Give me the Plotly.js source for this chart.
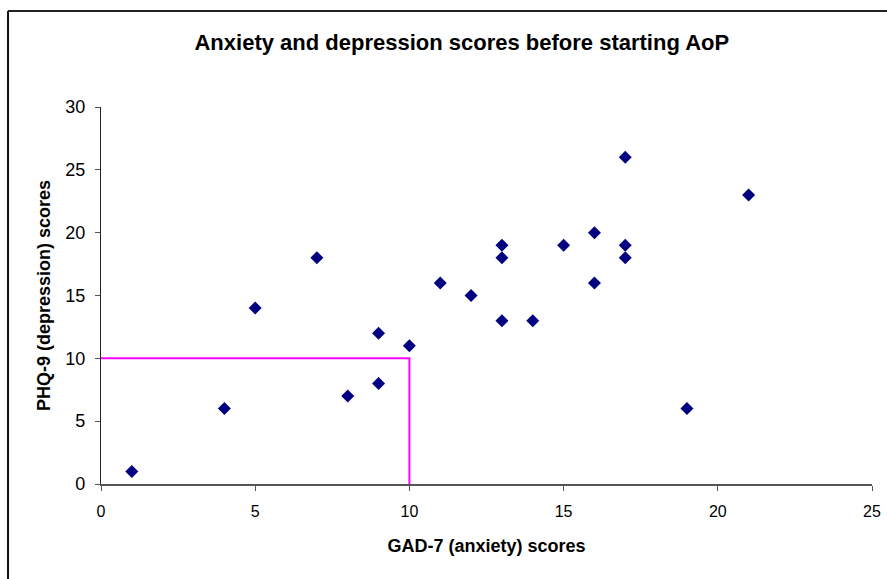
<!DOCTYPE html>
<html>
<head>
<meta charset="utf-8">
<script src="https://cdn.plot.ly/plotly-3.0.1.min.js"></script>
<style>html,body{margin:0;padding:0;background:#fff;}#chart{width:887px;height:579px;}</style>
</head>
<body>
<div id="chart"></div>
<script>
const gad7 = [1, 4, 5, 7, 8, 9, 9, 10, 11, 12, 13, 13, 13, 14, 15, 16, 16, 17, 17, 17, 19, 21];
const phq9 = [1, 6, 14, 18, 7, 12, 8, 11, 16, 15, 19, 18, 13, 13, 19, 20, 16, 26, 19, 18, 6, 23];
const guideX = [0, 10, 10];
const guideY = [10, 10, 0];
const xTicks = [0, 5, 10, 15, 20, 25];
const yTicks = [0, 5, 10, 15, 20, 25, 30];

const traces = [
  {x: guideX, y: guideY, mode: 'lines', line: {color: '#FF00FF', width: 2}, hoverinfo: 'skip', cliponaxis: false},
  {x: gad7, y: phq9, mode: 'markers', marker: {symbol: 'diamond', size: 10, color: '#000080'}, cliponaxis: false}
];

const layout = {
  width: 887, height: 579,
  margin: {l: 101, r: 15, t: 107, b: 95},
  paper_bgcolor: '#fff', plot_bgcolor: '#fff',
  showlegend: false,
  font: {family: 'Liberation Sans, Arial, sans-serif', color: '#000'},
  title: {text: '<b>Anxiety and depression scores before starting AoP</b>', font: {size: 22, color: '#000'}, x: 0.468, xref: 'paper', xanchor: 'center', y: 0.927, yanchor: 'middle'},
  xaxis: {
    range: [0, 25], tickvals: xTicks, ticktext: xTicks.map(String),
    showgrid: false, zeroline: false, showline: true, linecolor: '#555', linewidth: 1.5,
    ticks: 'outside', ticklen: 5, tickcolor: '#555', tickfont: {size: 16, color: '#000'},
    ticklabelstandoff: 7,
    title: {text: '<b>GAD-7 (anxiety) scores</b>', font: {size: 18, color: '#000'}, standoff: 20}
  },
  yaxis: {
    range: [0, 30], tickvals: yTicks, ticktext: yTicks.map(String),
    showgrid: false, zeroline: false, showline: true, linecolor: '#222', linewidth: 1.2,
    ticks: 'outside', ticklen: 5, tickcolor: '#555', tickfont: {size: 18, color: '#000'},
    ticklabelstandoff: 6,
    title: {text: '<b>PHQ-9 (depression) scores</b>', font: {size: 18, color: '#000'}, standoff: 9}
  },
  shapes: [
    {type: 'line', xref: 'paper', yref: 'paper', x0: -0.1206, x1: 1.03, y0: 1.2548, y1: 1.2548, line: {color: '#222', width: 2}},
    {type: 'line', xref: 'paper', yref: 'paper', x0: -0.1206, x1: -0.1206, y0: 1.2548, y1: -0.26, line: {color: '#111', width: 2}}
  ]
};

Plotly.newPlot('chart', traces, layout, {displayModeBar: false, staticPlot: true});
</script>
</body>
</html>
